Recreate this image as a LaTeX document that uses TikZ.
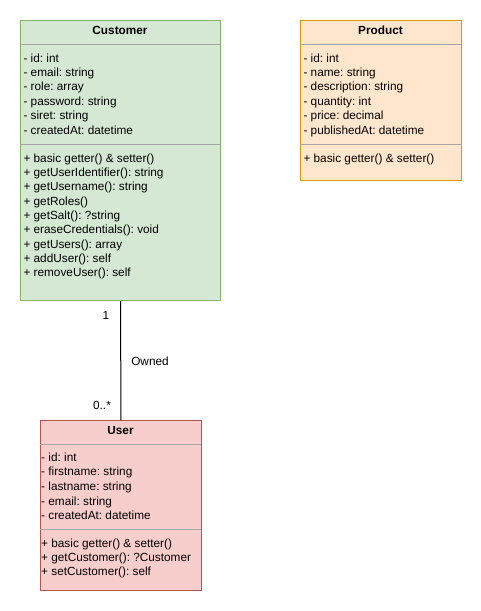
\documentclass[tikz,border=0pt]{standalone}
\usepackage{fontspec}
\setmainfont{Liberation Sans}
\usepackage{xcolor}
\usepackage{tikz}
\definecolor{custfill}{HTML}{D5E8D4}
\definecolor{custline}{HTML}{82B366}
\definecolor{prodfill}{HTML}{FFE6CC}
\definecolor{prodline}{HTML}{D79B00}
\definecolor{userfill}{HTML}{F8CECC}
\definecolor{userline}{HTML}{B85450}
\definecolor{sepgray}{HTML}{A6A6A6}
\frenchspacing

\begin{document}
\begin{tikzpicture}[x=1pt, y=-1pt,
  classbox/.style={rectangle, anchor=north west, inner sep=0pt, line width=1pt},
  custbox/.style={classbox, fill=custfill, draw=custline, minimum width=200pt, minimum height=280pt},
  prodbox/.style={classbox, fill=prodfill, draw=prodline, minimum width=161pt, minimum height=160pt},
  userbox/.style={classbox, fill=userfill, draw=userline, minimum width=161pt, minimum height=170pt},
  title/.style={anchor=base, inner sep=0pt, font=\fontsize{11.8}{14}\selectfont\bfseries},
  member/.style={anchor=base west, inner sep=0pt, font=\fontsize{11.8}{14}\selectfont},
  sep/.style={sepgray, line width=1pt},
  mult/.style={anchor=base, inner sep=0pt, font=\fontsize{11.8}{14}\selectfont}]

\useasboundingbox (0,0) rectangle (481,611);

% Customer
\node[custbox] (customer) at (20,20) {};
\node[title] (custtitle) at (120,34.5) {Customer};
\draw[sep] (20,44) -- (220,44);
\foreach \txt [count=\i from 0] in {- id: int, - email: string, - role: array,
    - password: string, - siret: string, - createdAt: datetime}
  \node[member] (custattr\i) at (23.3,62+\i*14.45) {\txt};
\draw[sep] (20,144) -- (220,144);
\foreach \txt [count=\i from 0] in {+ basic getter() \& setter(), + getUserIdentifier(): string,
    + getUsername(): string, + getRoles(), + getSalt(): ?string, + eraseCredentials(): void,
    + getUsers(): array, + addUser(): self, + removeUser(): self}
  \node[member] (custop\i) at (23.3,162.3+\i*14.3) {\txt};

% Product
\node[prodbox] (product) at (300,20) {};
\node[title] (prodtitle) at (380.5,34.5) {Product};
\draw[sep] (300,44) -- (461,44);
\foreach \txt [count=\i from 0] in {- id: int, - name: string, - description: string,
    - quantity: int, - price: decimal, - publishedAt: datetime}
  \node[member] (prodattr\i) at (303.3,62+\i*14.45) {\txt};
\draw[sep] (300,144) -- (461,144);
\node[member] (prodop0) at (303.3,162.3) {+ basic getter() \& setter()};

% User
\node[userbox] (user) at (40,420) {};
\node[title] (usertitle) at (120.5,434.5) {User};
\draw[sep] (40,444) -- (201,444);
\foreach \txt [count=\i from 0] in {- id: int, - firstname: string, - lastname: string,
    - email: string, - createdAt: datetime}
  \node[member] (userattr\i) at (41,461+\i*14.7) {\txt};
\draw[sep] (40,529) -- (201,529);
\foreach \txt [count=\i from 0] in {+ basic getter() \& setter(), + getCustomer(): ?Customer,
    + setCustomer(): self}
  \node[member] (userop\i) at (41,547.3+\i*14.3) {\txt};

% association
\draw[line width=1pt] (customer.south) -- (user.north);
\node[mult] (multone) at (106,319) {1};
\node[mult] (assoclabel) at (150,365.5) {Owned};
\node[mult] (multmany) at (102,409) {0..*};

\end{tikzpicture}
\end{document}
